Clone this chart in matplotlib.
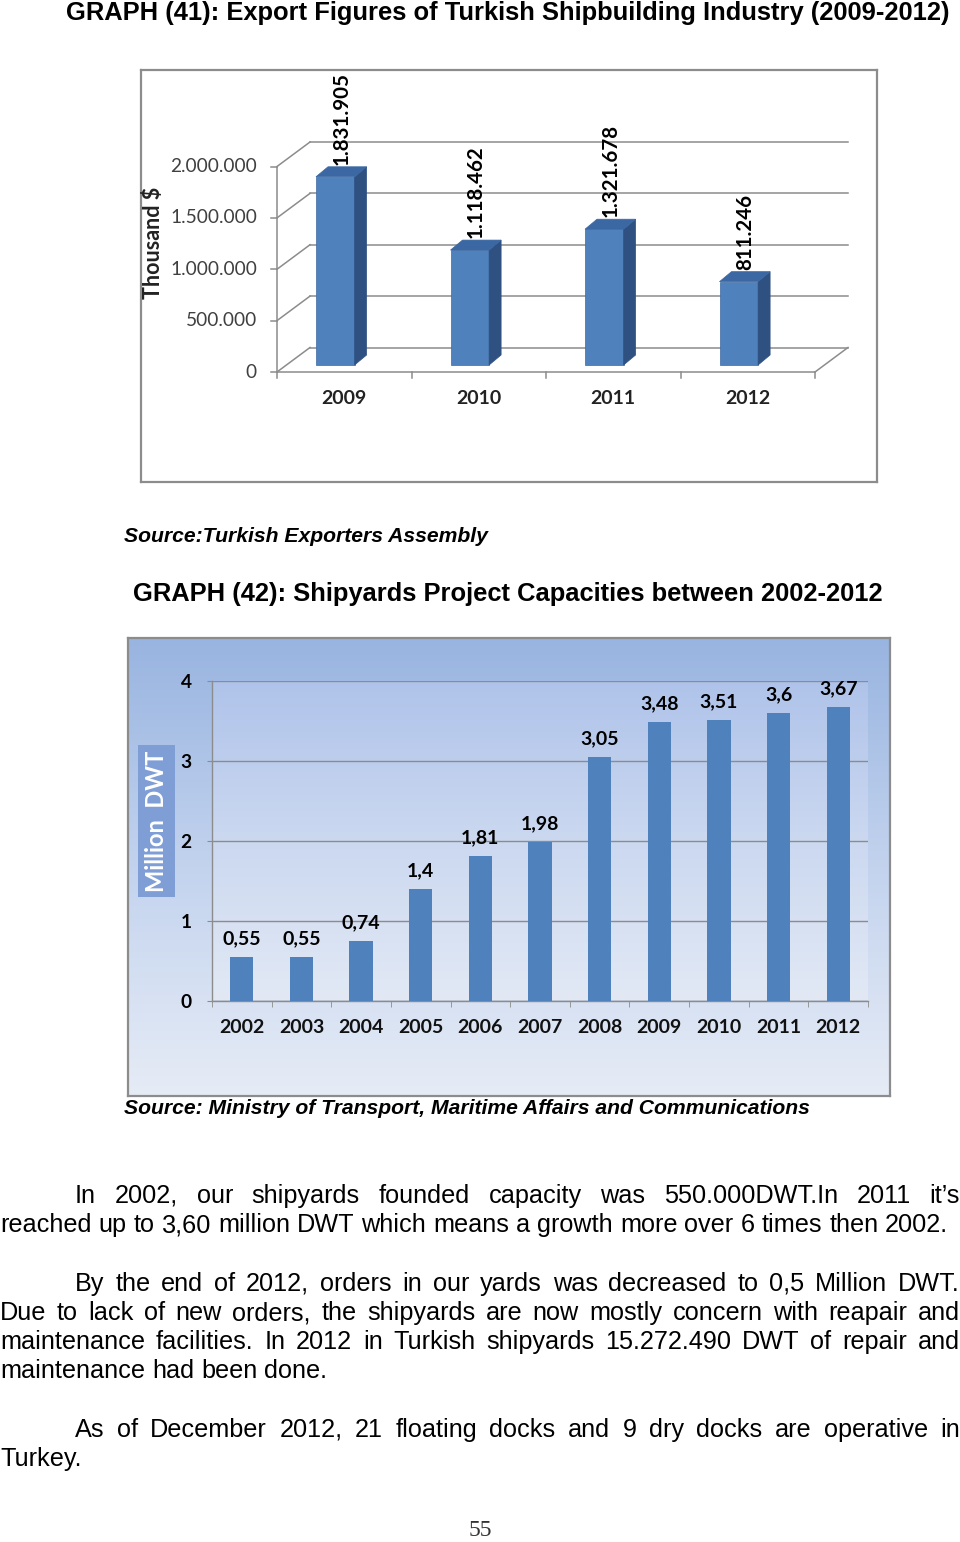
import numpy as np
import matplotlib
matplotlib.use("Agg")
import matplotlib.pyplot as plt
from matplotlib.patches import Polygon, Rectangle
from matplotlib.colors import LinearSegmentedColormap

W, H = 960, 1542

# GRAPH 41 data (thousand $)
exp_years = ['2009', '2010', '2011', '2012']
exp_values = [1831905, 1118462, 1321678, 811246]
exp_labels = ['1.831.905', '1.118.462', '1.321.678', '811.246']
exp_ticks = [0, 500000, 1000000, 1500000, 2000000]
exp_ticklabels = ['0', '500.000', '1.000.000', '1.500.000', '2.000.000']

# GRAPH 42 data (million DWT)
cap_years = ['2002', '2003', '2004', '2005', '2006', '2007', '2008', '2009', '2010', '2011', '2012']
cap_values = [0.55, 0.55, 0.74, 1.4, 1.81, 1.98, 3.05, 3.48, 3.51, 3.6, 3.67]
cap_labels = ['0,55', '0,55', '0,74', '1,4', '1,81', '1,98', '3,05', '3,48', '3,51', '3,6', '3,67']

chart_font = 'Lato'
body_font = 'Liberation Sans'
grey = '#8c8c8c'


def box(x0, y0, x1, y1):
    # pixel box (top-left origin) -> figure fraction rect
    return [x0 / W, 1 - y1 / H, (x1 - x0) / W, (y1 - y0) / H]


fig = plt.figure(figsize=(W / 100, H / 100), dpi=100)

# overlay for page text, in pixel units
ov = fig.add_axes([0, 0, 1, 1])
ov.set_xlim(0, W)
ov.set_ylim(H, 0)
ov.axis('off')

# ---------------- GRAPH 41 : pseudo 3D columns ----------------
ax1 = fig.add_axes(box(141, 70, 877, 482))
cat_px = 134.5            # px per category
x0_px, y0_px = 277, 372   # front origin of the axes
val_px = 205.5 / 2e6      # px per thousand $
sx = 1 / cat_px
sy = 1 / val_px
ax1.set_xlim((141 - x0_px) * sx, (877 - x0_px) * sx)
ax1.set_ylim((y0_px - 482) * sy, (y0_px - 70) * sy)
ax1.set_xticks([])
ax1.set_yticks([])
for s in ax1.spines.values():
    s.set_color(grey)
    s.set_linewidth(1.6)

n1 = len(exp_values)
bdx, bdy = 33 * sx, 24.5 * sy
for v in exp_ticks:
    ax1.plot([bdx, n1 + bdx], [v + bdy, v + bdy], color=grey, lw=1.1, zorder=1)
    ax1.plot([0, bdx], [v, v + bdy], color=grey, lw=1.1, zorder=1)
    ax1.plot([-6 * sx, 0], [v, v], color=grey, lw=1.1, zorder=1)
ax1.plot([0, 0], [0, exp_ticks[-1]], color=grey, lw=1.1, zorder=1)
ax1.plot([0, n1], [0, 0], color=grey, lw=1.1, zorder=1)
ax1.plot([n1, n1 + bdx], [0, bdy], color=grey, lw=1.1, zorder=1)
for i in range(n1 + 1):
    ax1.plot([i, i], [0, -6 * sy], color=grey, lw=1.1, zorder=1)

for v, lab in zip(exp_ticks, exp_ticklabels):
    ax1.text(-20 * sx, v, lab, ha='right', va='center', color='#404040',
             fontsize=13.8, family=chart_font)
for i, yr in enumerate(exp_years):
    ax1.text(i + 0.5, -27 * sy, yr, ha='center', va='center', fontsize=14,
             fontweight='bold', family=chart_font, color='#222222')
ax1.text((154 - x0_px) * sx, (y0_px - 243) * sy, 'Thousand $', rotation=90,
         ha='center', va='center', fontsize=15.5, fontweight='bold',
         family=chart_font, color='#222222')

ddx, ddy = 12 * sx, 10 * sy
base = 7 * sy
for i, (v, lab) in enumerate(zip(exp_values, exp_labels)):
    xl, xr = i + 0.29, i + 0.577
    top = base + v
    ax1.add_patch(Polygon([(xl, base), (xr, base), (xr, top), (xl, top)],
                          closed=True, fc='#4f81bd', ec='#3d6aa3', lw=0.5, zorder=3))
    ax1.add_patch(Polygon([(xr, base), (xr + ddx, base + ddy), (xr + ddx, top + ddy), (xr, top)],
                          closed=True, fc='#2f5182', ec='#2f5182', lw=0.5, zorder=3))
    ax1.add_patch(Polygon([(xl, top), (xr, top), (xr + ddx, top + ddy), (xl + ddx, top + ddy)],
                          closed=True, fc='#3b67a3', ec='#3b67a3', lw=0.5, zorder=3))
    ax1.text((xl + xr) / 2 + ddx / 2, top + ddy + 2 * sy, lab, rotation=90,
             ha='center', va='bottom', fontsize=14.8, fontweight='bold',
             family=chart_font, color='black', zorder=4)

# ---------------- GRAPH 42 : columns on gradient ----------------
outer_cmap = LinearSegmentedColormap.from_list('outer', ['#98b4e0', '#c3d3ee', '#e6ecf6'])
inner_cmap = LinearSegmentedColormap.from_list('inner', ['#afc3ea', '#cbd8f0', '#e2e9f5'])
grad = np.linspace(0, 1, 256).reshape(-1, 1)

bg = fig.add_axes(box(128, 638, 890, 1096))
bg.imshow(grad, cmap=outer_cmap, aspect='auto', extent=[0, 1, 0, 1], origin='upper')
bg.set_xticks([])
bg.set_yticks([])
for s in bg.spines.values():
    s.set_color(grey)
    s.set_linewidth(1.6)

ax2 = fig.add_axes(box(212, 680.7, 868, 1000.5))
n2 = len(cap_values)
xs = np.arange(n2)
ax2.imshow(grad, cmap=inner_cmap, aspect='auto', extent=[-0.5, n2 - 0.5, 0, 4],
           origin='upper', zorder=0)
ax2.set_xlim(-0.5, n2 - 0.5)
ax2.set_ylim(0, 4)
ax2.patch.set_alpha(0)
ax2.bar(xs, cap_values, width=0.39, color='#4f81bd', zorder=3)
ax2.set_yticks([0, 1, 2, 3, 4])
ax2.set_yticklabels(['0', '1', '2', '3', '4'], fontsize=13.8, fontweight='bold',
                    family=chart_font)
ax2.set_xticks(xs)
ax2.set_xticklabels(cap_years, fontsize=14, fontweight='bold', family=chart_font,
                    color='#111111')
ax2.set_xticks(np.arange(n2 + 1) - 0.5, minor=True)
ax2.tick_params(axis='x', which='major', length=0, pad=13)
ax2.tick_params(axis='x', which='minor', length=4.5, color=grey)
ax2.tick_params(axis='y', length=3.6, color=grey, pad=11)
ax2.yaxis.grid(True, color=grey, lw=1.0, zorder=1)
ax2.set_axisbelow(True)
for side in ['top', 'right']:
    ax2.spines[side].set_visible(False)
for side in ['left', 'bottom']:
    ax2.spines[side].set_color(grey)
    ax2.spines[side].set_linewidth(1.0)
for x, v, lab in zip(xs, cap_values, cap_labels):
    ax2.annotate(lab, (x, v), xytext=(0, 7), textcoords='offset points',
                 ha='center', va='bottom', fontsize=14, fontweight='bold',
                 family=chart_font, zorder=4)

ov_box = Rectangle((138, 745), 37, 152, fc='#7f9ed6', ec='none', zorder=5)
ov.add_patch(ov_box)
ov.set_zorder(5)
ov.patch.set_visible(False)
ov.text(156.5, 821, 'Million  DWT', rotation=90, ha='center', va='center', color='white',
        fontsize=17, fontweight='bold', family=chart_font, zorder=6)

# ---------------- page text ----------------
ov.text(508, 13, 'GRAPH (41): Export Figures of Turkish Shipbuilding Industry (2009-2012)',
        ha='center', va='center', fontsize=18.4, fontweight='bold', family=body_font)
ov.text(124, 537, 'Source:Turkish Exporters Assembly', ha='left', va='center',
        fontsize=15.2, fontweight='bold', style='italic', family=body_font)
ov.text(508, 594, 'GRAPH (42): Shipyards Project Capacities between 2002-2012',
        ha='center', va='center', fontsize=18.4, fontweight='bold', family=body_font)
ov.text(124, 1109, 'Source: Ministry of Transport, Maritime Affairs and Communications',
        ha='left', va='center', fontsize=15.2, fontweight='bold', style='italic',
        family=body_font)

body_lines = [
    ("In 2002, our shipyards founded capacity was 550.000DWT.In 2011 it\u2019s", 75, 960, 1203, True),
    ("reached up to 3,60 million DWT which means a growth more over 6 times then 2002.", 0, 952, 1232, False),
    ("By the end of 2012, orders in our yards was decreased to 0,5 Million DWT.", 75, 960, 1291, True),
    ("Due to lack of new orders,  the shipyards are now mostly concern with reapair and", 0, 960, 1320, True),
    ("maintenance facilities. In 2012 in Turkish shipyards 15.272.490 DWT of repair and", 0, 960, 1349, True),
    ("maintenance had been done.", 0, 960, 1378, False),
    ("As of December 2012, 21 floating docks and 9 dry docks are operative in", 75, 960, 1437, True),
    ("Turkey.", 0, 960, 1466, False),
]
renderer = fig.canvas.get_renderer()
body_size = 18.2


def width_of(s):
    t = ov.text(0, 0, s, fontsize=body_size, family=body_font)
    w = t.get_window_extent(renderer).width
    t.remove()
    return w


space_w = width_of('a a') - width_of('aa')
for s, xa, xb, yb, just in body_lines:
    words = s.split()
    texts = [ov.text(0, yb, w, ha='left', va='baseline', fontsize=body_size,
                     family=body_font, color='black') for w in words]
    widths = [t.get_window_extent(renderer).width for t in texts]
    gap = (xb - xa - sum(widths)) / (len(words) - 1) if just else space_w
    x = xa
    for t, w in zip(texts, widths):
        t.set_x(x)
        x += w + gap

ov.text(480, 1531, '55', ha='center', va='center', fontsize=17, family='Liberation Serif',
        color='#333333')

fig.savefig('out.png', dpi=100)
